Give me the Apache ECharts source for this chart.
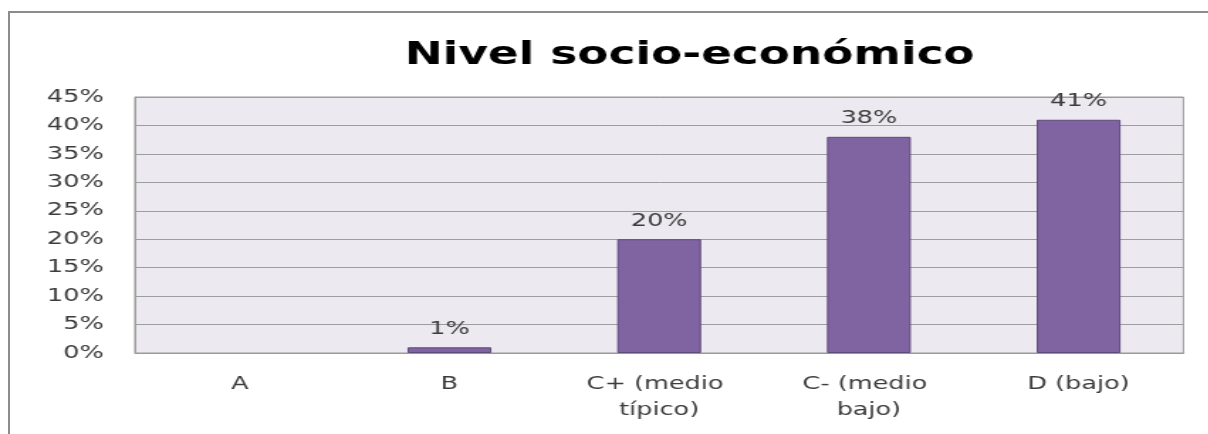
<!DOCTYPE html>
<html>
<head>
<meta charset="utf-8">
<script src="https://cdn.jsdelivr.net/npm/echarts@6/dist/echarts.min.js"></script>
<style>
  html, body { margin: 0; padding: 0; background: #ffffff; overflow: hidden; }
  #frame {
    position: absolute; left: 8px; top: 11px; width: 1200px; height: 423px;
    border-top: 2px solid #8c8c8c; border-left: 2px solid #8c8c8c;
    z-index: 0;
  }
  /* chart is laid out narrower and widened horizontally, giving the wide lettering */
  #chart {
    position: absolute; left: 0; top: 0; width: 851px; height: 434px;
    transform: scaleX(1.42); transform-origin: 0 0; z-index: 1;
  }
</style>
</head>
<body>
<div id="frame"></div>
<div id="chart"></div>
<script>
// Distribución por nivel socio-económico (porcentaje)
const categories = ['A', 'B', 'C+ (medio típico)', 'C- (medio bajo)', 'D (bajo)'];
const values = [0, 1, 20, 38, 41];
const yTicks = { min: 0, max: 45, step: 5 };
const titleText = 'Nivel socio-económico';

const font = 'DejaVu Sans';
const chart = echarts.init(document.getElementById('chart'), null, { renderer: 'canvas' });

// empty categories get no outline so no stray line sits on the baseline
const barData = values.map(v => (v > 0 ? v : { value: v, itemStyle: { borderWidth: 0 } }));

chart.setOption({
  backgroundColor: 'transparent',
  animation: false,
  title: {
    text: titleText,
    left: 280,
    top: 35,
    textStyle: { fontFamily: font, fontWeight: 'bold', fontSize: 32, color: '#000000' }
  },
  grid: {
    left: 95, right: 17.6, top: 97, bottom: 81,
    show: true, backgroundColor: '#ECEAF0', borderColor: '#9a9a9a', borderWidth: 1
  },
  xAxis: {
    type: 'category',
    data: categories,
    axisTick: { show: false },
    axisLine: { show: true, lineStyle: { color: '#9a9a9a', width: 1 } },
    axisLabel: {
      fontFamily: font, fontSize: 18, color: '#3c3c3c', margin: 18,
      lineHeight: 26, width: 110, overflow: 'break', interval: 0
    }
  },
  yAxis: {
    type: 'value',
    min: yTicks.min, max: yTicks.max, interval: yTicks.step,
    axisLine: { show: true, lineStyle: { color: '#9a9a9a', width: 1 } },
    axisTick: { show: false },
    splitLine: { show: true, lineStyle: { color: '#9d9d9d', width: 1 } },
    axisLabel: {
      fontFamily: font, fontSize: 18, color: '#3c3c3c', margin: 22,
      formatter: v => v + '%'
    }
  },
  series: [{
    type: 'bar',
    data: barData,
    barWidth: '40%',
    itemStyle: { color: '#8064A2', borderColor: '#5f4a7c', borderWidth: 1 },
    label: {
      show: true, position: 'top', distance: 9,
      fontFamily: font, fontSize: 18, color: '#3c3c3c',
      formatter: p => (p.value > 0 ? p.value + '%' : '')
    }
  }]
});
</script>
</body>
</html>
